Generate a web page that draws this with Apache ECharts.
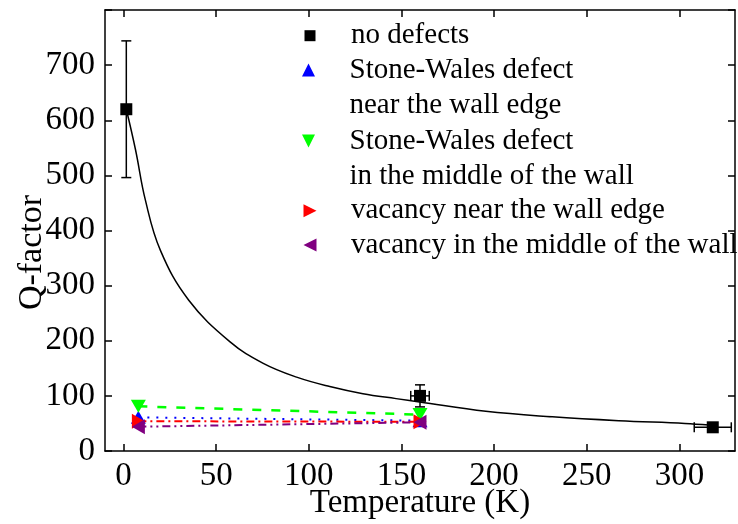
<!DOCTYPE html>
<html>
<head>
<meta charset="utf-8">
<script src="https://cdn.jsdelivr.net/npm/echarts@6/dist/echarts.min.js"></script>
<style>
  html, body { margin: 0; padding: 0; background: #fff; }
  #chart { width: 738px; height: 524px; }
</style>
</head>
<body>
<div id="chart"></div>
<script>
const FONT = '"Liberation Serif", "Times New Roman", serif';

// Defect-free resonator: temperature (K), Q-factor and their error bars
const noDefectT = [1.5, 160, 318];
const noDefectQ = [620, 100, 43];
const noDefectQErr = [124, 20, 0];
const noDefectTErr = [0, 5, 10];

// Fitted curve through the defect-free points
const fitT = [1.5, 6.5, 11.8, 19.9, 35.1, 57.5, 75.4, 93.4, 111.3, 129.2, 147.1, 159.7, 195.5, 231.4, 267.2, 303, 316];
const fitQ = [620, 546, 455, 364, 274, 198, 159, 134, 117, 104, 95, 89, 72, 62, 55, 50, 47];

// Resonators with a single defect
const defectT = [8, 160];
const swEdgeQ = [61, 55];
const swMiddleQ = [81, 66];
const vacEdgeQ = [54, 53];
const vacMiddleQ = [44, 52];

// Axis ticks
const xTicks = [0, 50, 100, 150, 200, 250, 300];

const NAMES = {
  none: 'no defects',
  swEdge: 'Stone-Wales defect\nnear the wall edge',
  swMiddle: 'Stone-Wales defect\nin the middle of the wall',
  vacEdge: 'vacancy near the wall edge',
  vacMiddle: 'vacancy in the middle of the wall'
};

const ICON = {
  up: 'path://M5,0L10,10L0,10Z',
  down: 'path://M0,0L10,0L5,10Z',
  right: 'path://M0,0L10,5L0,10Z',
  left: 'path://M10,0L0,5L10,10Z'
};

const pairs = (xs, ys) => xs.map((x, i) => [x, ys[i]]);

// One legend block per entry; two-line entries get a blank line on top
// so that the marker lines up with the first line of text
function legendEntry(name, icon, color, centerY, lines, w, h) {
  const iconCenterX = 310, textX = 351;
  const left = iconCenterX - w / 2;
  const padLeft = textX - left - w - 5;
  return {
    data: [{ name: name, icon: icon, itemStyle: { color: color } }],
    orient: 'vertical',
    left: left,
    top: centerY - (lines === 1 ? 17.5 : 52.5),
    padding: 0,
    itemWidth: w,
    itemHeight: h,
    selectedMode: false,
    formatter: n => (lines === 1 ? n : ' \n' + n),
    textStyle: {
      fontFamily: FONT, fontSize: 29, color: '#000', lineHeight: 35,
      padding: [0, 0, 0, padLeft]
    }
  };
}

const axisLine = { show: true, onZero: false, lineStyle: { color: '#000', width: 1.5 } };
const tickStyle = { show: true, inside: true, length: 7, lineStyle: { color: '#000', width: 1.5 } };

function errorBars(params, api) {
  const t = api.value(0), q = api.value(1), dq = api.value(2), dt = api.value(3);
  const cap = 5;
  const style = { stroke: '#000', lineWidth: 1.5 };
  const seg = (a, b) => ({ type: 'line', shape: { x1: a[0], y1: a[1], x2: b[0], y2: b[1] }, style: style });
  const children = [];
  if (dq > 0) {
    const top = api.coord([t, q + dq]), bot = api.coord([t, q - dq]);
    children.push(seg(top, bot));
    children.push(seg([top[0] - cap, top[1]], [top[0] + cap, top[1]]));
    children.push(seg([bot[0] - cap, bot[1]], [bot[0] + cap, bot[1]]));
  }
  if (dt > 0) {
    const l = api.coord([t - dt, q]), r = api.coord([t + dt, q]);
    children.push(seg(l, r));
    children.push(seg([l[0], l[1] - cap], [l[0], l[1] + cap]));
    children.push(seg([r[0], r[1] - cap], [r[0], r[1] + cap]));
  }
  return { type: 'group', children: children };
}

function defectSeries(name, data, color, symbol, size, dash, width) {
  return {
    name: name, type: 'line', data: data,
    symbol: symbol, symbolSize: size, showSymbol: true,
    itemStyle: { color: color, opacity: 1 },
    lineStyle: { color: color, width: width, type: dash },
    animation: false, z: 4
  };
}

const chart = echarts.init(document.getElementById('chart'), null, { renderer: 'canvas' });

chart.setOption({
  backgroundColor: '#fff',
  animation: false,
  textStyle: { fontFamily: FONT },
  grid: { left: 105, right: 3, top: 10, bottom: 73, containLabel: false, outerBoundsMode: 'none' },
  legend: [
    legendEntry(NAMES.none, 'rect', '#000', 35.7, 1, 11, 11),
    legendEntry(NAMES.swEdge, ICON.up, '#0000ff', 70, 2, 16, 13),
    legendEntry(NAMES.swMiddle, ICON.down, '#00ff00', 141, 2, 16, 13),
    legendEntry(NAMES.vacEdge, ICON.right, '#ff0000', 210.7, 1, 13, 14),
    legendEntry(NAMES.vacMiddle, ICON.left, '#800080', 245, 1, 13, 14)
  ],
  xAxis: [
    {
      type: 'value', position: 'bottom', min: -10, max: 330,
      axisLine: axisLine,
      axisTick: Object.assign({ customValues: xTicks }, tickStyle),
      axisLabel: { customValues: xTicks, fontFamily: FONT, fontSize: 33, color: '#000', margin: 9 },
      splitLine: { show: false },
      name: 'Temperature (K)', nameLocation: 'middle', nameGap: 36, nameMoveOverlap: false,
      nameTextStyle: { fontFamily: FONT, fontSize: 33, color: '#000' }
    },
    {
      type: 'value', position: 'top', min: -10, max: 330,
      axisLine: axisLine,
      axisTick: Object.assign({ customValues: xTicks }, tickStyle),
      axisLabel: { show: false },
      splitLine: { show: false }
    }
  ],
  yAxis: [
    {
      type: 'value', position: 'left', min: 0, max: 800, interval: 100,
      axisLine: axisLine,
      axisTick: tickStyle,
      axisLabel: {
        fontFamily: FONT, fontSize: 33, color: '#000', margin: 10,
        formatter: v => (v >= 800 ? '' : String(v))
      },
      splitLine: { show: false },
      name: 'Q-factor', nameLocation: 'middle', nameGap: 56, nameMoveOverlap: false,
      nameTextStyle: { fontFamily: FONT, fontSize: 34, color: '#000', padding: [0, 44, 0, 0] }
    },
    {
      type: 'value', position: 'right', min: 0, max: 800, interval: 100,
      axisLine: axisLine,
      axisTick: tickStyle,
      axisLabel: { show: false },
      splitLine: { show: false }
    }
  ],
  series: [
    {
      name: 'fit', type: 'line', data: pairs(fitT, fitQ),
      smooth: 0.4, showSymbol: false, symbol: 'none',
      lineStyle: { color: '#000', width: 1.5 }, z: 2, silent: true
    },
    {
      name: 'errors', type: 'custom',
      data: noDefectT.map((t, i) => [t, noDefectQ[i], noDefectQErr[i], noDefectTErr[i]]),
      encode: { x: 0, y: 1 },
      renderItem: errorBars, z: 3, silent: true
    },
    {
      name: NAMES.none, type: 'scatter', data: pairs(noDefectT, noDefectQ),
      symbol: 'rect', symbolSize: 12, itemStyle: { color: '#000', opacity: 1 }, z: 5
    },
    defectSeries(NAMES.swEdge, pairs(defectT, swEdgeQ), '#0000ff', ICON.up, [15, 13], [2, 7], 2),
    defectSeries(NAMES.swMiddle, pairs(defectT, swMiddleQ), '#00ff00', ICON.down, [15, 13], [9, 10], 2.5),
    defectSeries(NAMES.vacEdge, pairs(defectT, vacEdgeQ), '#ff0000', ICON.right, [13, 15], [8, 4, 2, 4], 2),
    defectSeries(NAMES.vacMiddle, pairs(defectT, vacMiddleQ), '#800080', ICON.left, [13, 15], [8, 4, 2, 4, 2, 4], 2)
  ]
});
</script>
</body>
</html>
